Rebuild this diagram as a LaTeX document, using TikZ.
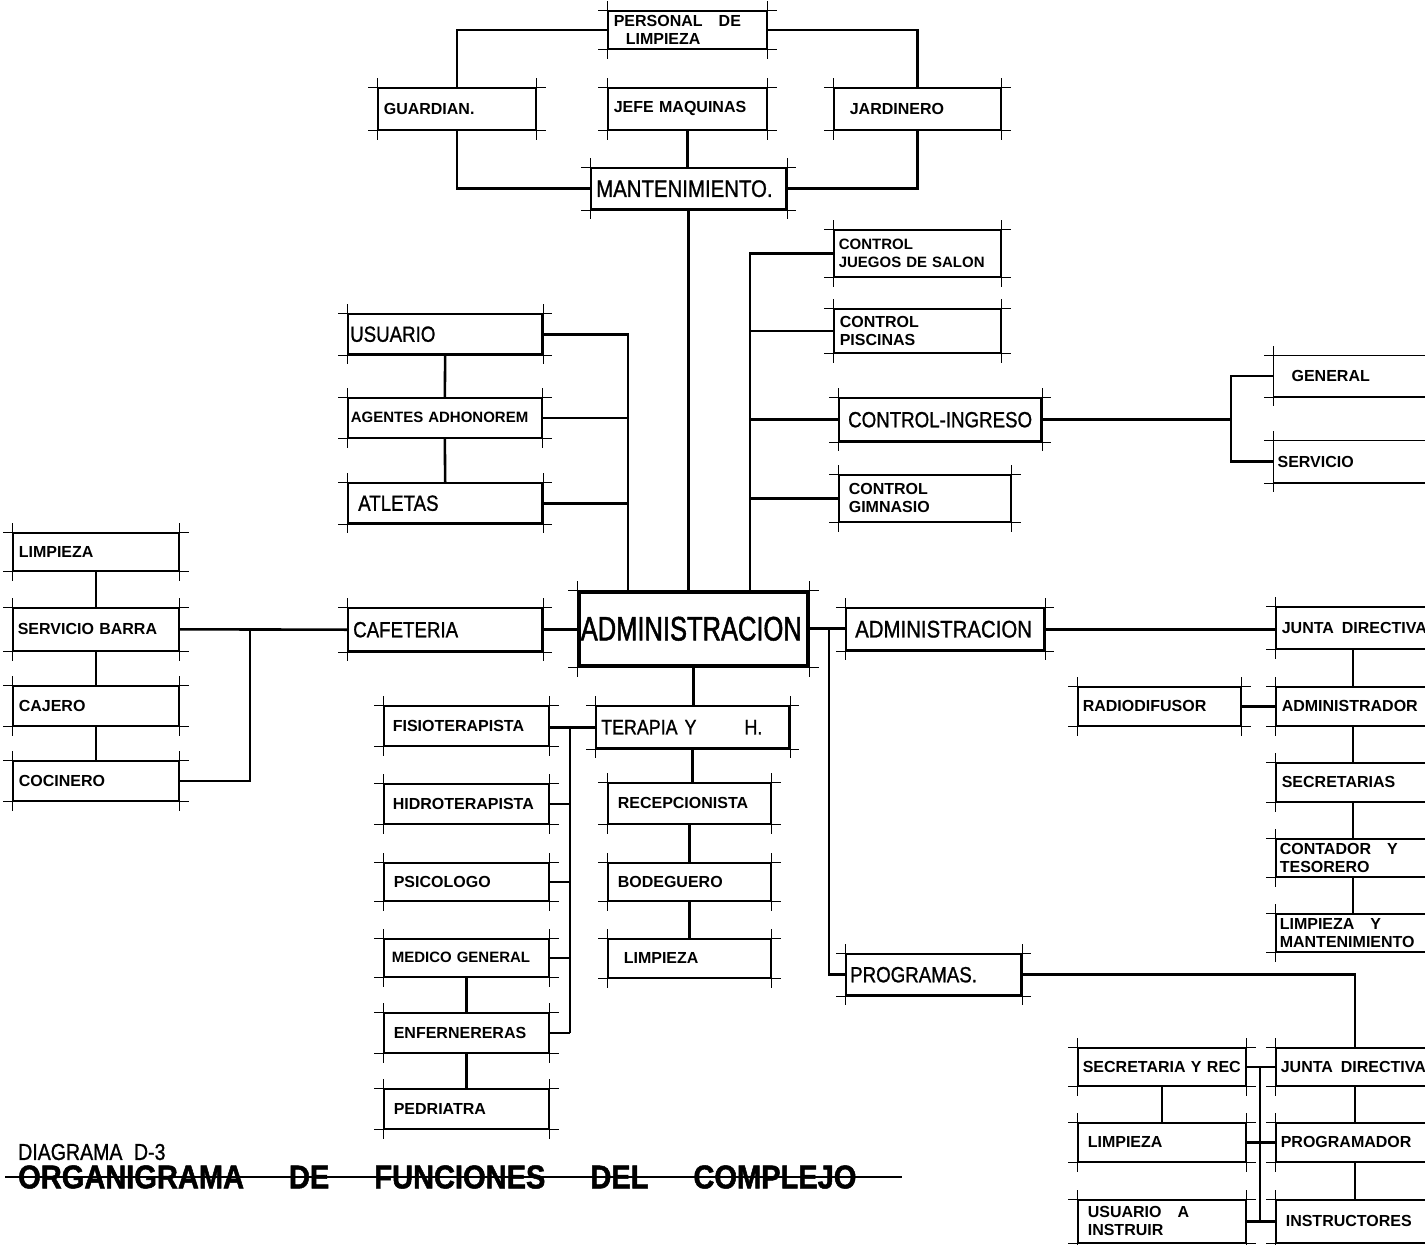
\documentclass[tikz,border=0pt]{standalone}
\usepackage{fontspec}
\setmainfont{Liberation Sans}
\newfontfamily\rotulo[FakeStretch=0.85,FakeBold=1]{Liberation Sans}
\newfontfamily\rotuload[FakeStretch=0.75,FakeBold=1.5]{Liberation Sans}
\newfontfamily\titular[FakeStretch=0.88,BoldFeatures={FakeBold=1.5}]{Liberation Sans}
\newcommand{\chica}{\bfseries\fontsize{16}{18}\selectfont\hyphenpenalty=10000\exhyphenpenalty=10000}
\newcommand{\rotgrande}{\rotulo\fontsize{22}{24}\selectfont}
\begin{document}
\begin{tikzpicture}[
  x=1pt,y=-1pt,
  marca/.style={line width=1pt},
  caja/.style={draw,line width=1.6pt,anchor=north west,align=left,inner xsep=6pt,inner ysep=0pt,font=\chica,
    append after command={
      ([xshift=-9pt]\tikzlastnode.north west) edge[marca] ([xshift=9pt]\tikzlastnode.north east)
      ([xshift=-9pt]\tikzlastnode.south west) edge[marca] ([xshift=9pt]\tikzlastnode.south east)
      ([yshift=9pt]\tikzlastnode.north west) edge[marca] ([yshift=-9pt]\tikzlastnode.south west)
      ([yshift=9pt]\tikzlastnode.north east) edge[marca] ([yshift=-9pt]\tikzlastnode.south east)}},
  grande/.style={caja,line width=2.4pt,font=\rotgrande},
  linea/.style={line width=2.6pt}
]
  \useasboundingbox (0,0) rectangle (1425,1245);
  \clip (0,0) rectangle (1425,1245);

  \node[caja,text width=147pt,minimum height=38pt] (personal) at (607,10) {PERSONAL\quad DE\\\hspace*{12pt}LIMPIEZA};
  \node[caja,text width=146pt,minimum height=42pt] (guardian) at (377,87) {GUARDIAN.};
  \node[caja,text width=147pt,minimum height=42pt] (jefe) at (607,87) {JEFE MAQUINAS};
  \node[caja,text width=155pt,minimum height=42pt] (jardinero) at (833,87) {\hspace*{10pt}JARDINERO};
  \node[grande,inner xsep=5pt,text width=185pt,minimum height=41pt,font=\rotulo\fontsize{24}{26}\selectfont] (mant) at (590,167) {MANTENIMIENTO.};

  \node[grande,inner xsep=2pt,text width=190pt,minimum height=40pt] (usuario) at (347,313) {USUARIO};
  \node[caja,inner xsep=3pt,text width=188pt,minimum height=40pt,font=\chica\fontsize{15}{17}\selectfont] (agentes) at (347,397) {AGENTES ADHONOREM};
  \node[grande,inner xsep=10pt,text width=174pt,minimum height=40pt] (atletas) at (347,482) {ATLETAS};

  \node[caja,inner xsep=5pt,text width=157pt,minimum height=47pt,font=\chica\fontsize{15}{18}\selectfont] (juegos) at (833,229) {CONTROL\\JUEGOS DE SALON};
  \node[caja,text width=155pt,minimum height=44pt] (piscinas) at (833,308) {CONTROL\\PISCINAS};
  \node[grande,inner xsep=9pt,text width=184pt,minimum height=43pt] (ingreso) at (838,397) {CONTROL-INGRESO};
  \node[caja,inner xsep=10pt,text width=152pt,minimum height=47pt] (gimnasio) at (838,474) {CONTROL\\GIMNASIO};
  \node[caja,line width=1.2pt,text width=188pt,minimum height=41pt] (general) at (1273,355) {\hspace*{12pt}GENERAL};
  \node[caja,line width=1.2pt,inner xsep=4pt,text width=192pt,minimum height=42pt] (servicio) at (1273,440) {SERVICIO};

  \node[grande,line width=3.5pt,inner xsep=2pt,text width=225pt,minimum height=74pt,font=\rotuload\fontsize{34}{36}\selectfont] (admin) at (577,590) {ADMINISTRACION};
  \node[grande,inner xsep=5pt,text width=184pt,minimum height=43pt] (cafeteria) at (347,607) {CAFETERIA};
  \node[grande,inner xsep=9pt,text width=180pt,minimum height=42pt,font=\rotulo\fontsize{24}{26}\selectfont] (admin2) at (845,607) {ADMINISTRACION};
  \node[grande,inner xsep=5pt,text width=183pt,minimum height=42pt,font=\rotulo\fontsize{21}{23}\selectfont] (terapia) at (595,705) {TERAPIA Y\hspace{48pt}H.};
  \node[grande,inner xsep=4pt,text width=167pt,minimum height=41pt] (programas) at (845,953) {PROGRAMAS.};

  \node[caja,text width=154pt,minimum height=38pt] (limpC) at (12,532) {LIMPIEZA};
  \node[caja,inner xsep=5pt,text width=156pt,minimum height=43pt] (barra) at (12,607) {SERVICIO BARRA};
  \node[caja,text width=154pt,minimum height=40pt] (cajero) at (12,685) {CAJERO};
  \node[caja,text width=154pt,minimum height=40pt] (cocinero) at (12,760) {COCINERO};

  \node[caja,inner xsep=9pt,text width=147pt,minimum height=40pt] (fisio) at (383,705) {FISIOTERAPISTA};
  \node[caja,inner xsep=9pt,text width=147pt,minimum height=40pt] (hidro) at (383,783) {HIDROTERAPISTA};
  \node[caja,inner xsep=10pt,text width=145pt,minimum height=38pt] (psico) at (383,862) {PSICOLOGO};
  \node[caja,inner xsep=8pt,text width=149pt,minimum height=38pt,font=\chica\fontsize{15}{17}\selectfont] (medico) at (383,938) {MEDICO GENERAL};
  \node[caja,inner xsep=10pt,text width=145pt,minimum height=40pt] (enfer) at (383,1012) {ENFERNERERAS};
  \node[caja,inner xsep=10pt,text width=145pt,minimum height=40pt] (pedri) at (383,1088) {PEDRIATRA};

  \node[caja,inner xsep=10pt,text width=143pt,minimum height=41pt] (recep) at (607,782) {RECEPCIONISTA};
  \node[caja,inner xsep=10pt,text width=143pt,minimum height=38pt] (bodeg) at (607,862) {BODEGUERO};
  \node[caja,inner xsep=16pt,text width=131pt,minimum height=39pt] (limpT) at (607,938) {LIMPIEZA\\[4pt]};

  \node[caja,text width=188pt,minimum height=42pt] (junta) at (1275,606) {JUNTA\enspace DIRECTIVA};
  \node[caja,text width=188pt,minimum height=39pt] (admr) at (1275,686) {ADMINISTRADOR};
  \node[caja,text width=188pt,minimum height=39pt] (secr) at (1275,762) {SECRETARIAS};
  \node[caja,inner xsep=4pt,text width=192pt,minimum height=38pt] (conta) at (1275,838) {CONTADOR\quad Y\\TESORERO};
  \node[caja,inner xsep=4pt,text width=192pt,minimum height=38pt] (limpM) at (1275,913) {LIMPIEZA\quad Y\\MANTENIMIENTO};
  \node[caja,inner xsep=5pt,text width=153pt,minimum height=39pt] (radio) at (1077,686) {RADIODIFUSOR};

  \node[caja,inner xsep=5pt,text width=158pt,minimum height=38pt] (sec2) at (1077,1047) {SECRETARIA Y REC};
  \node[caja,inner xsep=10pt,text width=148pt,minimum height=39pt] (limp2) at (1077,1122) {LIMPIEZA};
  \node[caja,inner xsep=10pt,text width=148pt,minimum height=43pt] (usu2) at (1077,1199) {USUARIO\quad A\\INSTRUIR};
  \node[caja,inner xsep=5pt,text width=190pt,minimum height=38pt] (junta2) at (1275,1047) {JUNTA\enspace DIRECTIVA};
  \node[caja,inner xsep=5pt,text width=190pt,minimum height=39pt] (progr) at (1275,1122) {PROGRAMADOR};
  \node[caja,inner xsep=10pt,text width=180pt,minimum height=43pt] (instr) at (1275,1199) {INSTRUCTORES};

  \node[anchor=west,inner sep=0pt,font=\rotulo\fontsize{23}{25}\selectfont] (diagrama) at (18,1152) {DIAGRAMA\enspace D-3};
  \node[anchor=west,inner sep=0pt,font=\titular\bfseries\fontsize{33}{35}\selectfont] (titulo) at (18,1177) {ORGANIGRAMA\hspace{45pt}DE\hspace{45pt}FUNCIONES\hspace{45pt}DEL\hspace{45pt}COMPLEJO};

  \coordinate (busL) at (628,0);
  \coordinate (busR) at (750,0);
  \coordinate (busG) at (1231,0);
  \coordinate (busC) at (250,0);
  \coordinate (busT) at (570,0);
  \coordinate (busP) at (829,0);
  \coordinate (busA) at (1353,0);
  \coordinate (busB) at (1355,0);
  \coordinate (busS) at (1260,0);

  \draw[linea] (personal.west) -| (guardian.north);
  \draw[linea] (personal.east) -| (jardinero.north);
  \draw[linea] (guardian.south) |- (mant.west);
  \draw[linea] (jardinero.south) |- (mant.east);
  \draw[linea] (jefe.south) -- (jefe.south |- mant.north);
  \draw[linea] (mant.south) -- (mant.south |- admin.north);

  \draw[linea] (usuario.south) -- (agentes.north);
  \draw[linea] (agentes.south) -- (atletas.north);
  \draw[linea] (usuario.east) -| (admin.north -| busL);
  \draw[linea] (agentes.east) -- (agentes.east -| busL);
  \draw[linea] (atletas.east) -- (atletas.east -| busL);

  \draw[linea] (juegos.west) -| (admin.north -| busR);
  \draw[linea] (piscinas.west) -- (piscinas.west -| busR);
  \draw[linea] (ingreso.west) -- (ingreso.west -| busR);
  \draw[linea] (gimnasio.west) -- (gimnasio.west -| busR);
  \draw[linea] (ingreso.east) -- (ingreso.east -| busG);
  \draw[linea] (general.west) -| (servicio.west -| busG) -- (servicio.west);

  \draw[linea] (cafeteria.east) -- (cafeteria.east -| admin.west);
  \draw[linea] (cafeteria.west) -- (barra.east);
  \draw[linea] (cocinero.east) -| (barra.east -| busC);
  \draw[linea] (limpC.south) -- (barra.north);
  \draw[linea] (barra.south) -- (cajero.north);
  \draw[linea] (cajero.south) -- (cocinero.north);

  \draw[linea] (admin.south) -- (admin.south |- terapia.north);
  \draw[linea] (terapia.west) -- (terapia.west -| fisio.east);
  \draw[linea] (fisio.east -| busT) -- (enfer.east -| busT);
  \draw[linea] (hidro.east) -- (hidro.east -| busT);
  \draw[linea] (psico.east) -- (psico.east -| busT);
  \draw[linea] (medico.east) -- (medico.east -| busT);
  \draw[linea] (enfer.east) -- (enfer.east -| busT);
  \draw[linea] (medico.south) -- (enfer.north);
  \draw[linea] (enfer.south) -- (pedri.north);
  \draw[linea] (terapia.south) -- (terapia.south |- recep.north);
  \draw[linea] (recep.south) -- (bodeg.north);
  \draw[linea] (bodeg.south) -- (limpT.north);

  \draw[linea] (admin.east) -- (admin.east -| admin2.west);
  \draw[linea] (admin.east -| busP) |- (programas.west);
  \draw[linea] (admin2.east) -- (admin2.east -| junta.west);
  \draw[linea] (junta.south -| busA) -- (admr.north -| busA);
  \draw[linea] (admr.south -| busA) -- (secr.north -| busA);
  \draw[linea] (secr.south -| busA) -- (conta.north -| busA);
  \draw[linea] (conta.south -| busA) -- (limpM.north -| busA);
  \draw[linea] (radio.east) -- (admr.west);

  \draw[linea] (programas.east) -| (junta2.north -| busB);
  \draw[linea] (junta2.south -| busB) -- (progr.north -| busB);
  \draw[linea] (progr.south -| busB) -- (instr.north -| busB);
  \draw[linea] (sec2.east) -- (junta2.west);
  \draw[linea] (limp2.east) -- (progr.west);
  \draw[linea] (usu2.east) -- (instr.west);
  \draw[linea] (sec2.east -| busS) -- (usu2.east -| busS);
  \draw[linea] (sec2.south) -- (limp2.north);

  \draw[line width=1.3pt] ([xshift=-13pt]titulo.west) -- ([xshift=45pt]titulo.east);
\end{tikzpicture}
\end{document}
